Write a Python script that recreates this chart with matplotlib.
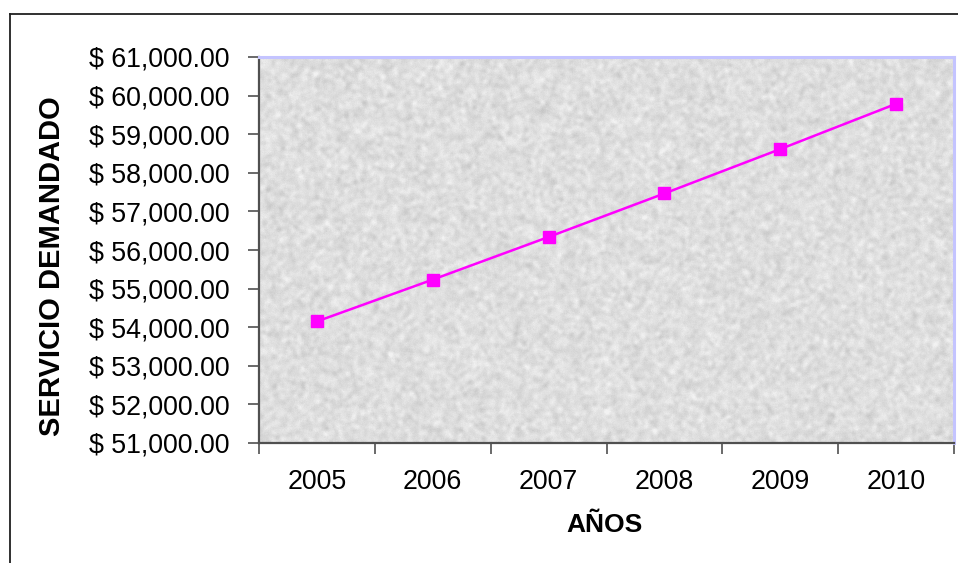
#modulos para el grafico
import numpy as np
import matplotlib
matplotlib.use("Agg")
import matplotlib.pyplot as plt
from matplotlib.lines import Line2D

#Datos
anos = ["2005", "2006", "2007", "2008", "2009", "2010"]
servicio = [54150, 55233, 56338, 57465, 58614, 59787]
y_ticks = [51000, 52000, 53000, 54000, 55000, 56000, 57000, 58000, 59000, 60000, 61000]

#Textos
t_x = "AÑOS"
t_y = "SERVICIO DEMANDADO"

plt.rcParams['font.family'] = ['Liberation Sans', 'DejaVu Sans']

fig = plt.figure(figsize=(9.58, 5.63), dpi=100)
fig.patch.set_facecolor('white')

#marco exterior del grafico (solo se ven borde izquierdo y superior)
fig.add_artist(Line2D([9.5 / 958, 9.5 / 958], [1 - 13.5 / 563, 0], transform=fig.transFigure,
                      color='#202020', lw=1.3))
fig.add_artist(Line2D([9.5 / 958, 1], [1 - 13.5 / 563, 1 - 13.5 / 563], transform=fig.transFigure,
                      color='#202020', lw=1.3))

ax = fig.add_axes([259 / 958, 1 - 443 / 563, 695 / 958, 386 / 563])

#fondo tipo granito del area de trazado (gris claro, poco contraste)
rng = np.random.default_rng(7)
ruido = rng.normal(0, 1, (386, 695))
k = np.ones(4) / 4
for _ in range(2):
    ruido = np.apply_along_axis(lambda r: np.convolve(r, k, mode='same'), 1, ruido)
    ruido = np.apply_along_axis(lambda c: np.convolve(c, k, mode='same'), 0, ruido)
ruido = ruido / ruido.std()
fino = rng.normal(0, 1, (386, 695))
gris = 0.872 + 0.022 * ruido + 0.007 * fino
gris = np.clip(gris, 0.78, 0.95)
ax.imshow(np.dstack([gris, gris, gris]), extent=(-0.5, 5.5, 51000, 61000),
          aspect='auto', interpolation='bilinear', zorder=0)

#linea con marcadores cuadrados
x = np.arange(len(anos))
ax.plot(x, servicio, color='#ff00ff', lw=1.8, marker='s', markersize=8.5,
        markeredgecolor='#ff00ff', zorder=3)

ax.set_xlim(-0.5, len(anos) - 0.5)
ax.set_ylim(y_ticks[0], y_ticks[-1])

#eje Y
ax.set_yticks(y_ticks)
ax.set_yticklabels(["$ {:,.2f}".format(v) for v in y_ticks])
ax.tick_params(axis='y', direction='out', length=8, width=1.2, color='#505050',
               labelsize=19.3, pad=13)

#eje X: marcas entre categorias, etiquetas centradas
ax.set_xticks(np.arange(-0.5, len(anos), 1.0))
ax.set_xticklabels([])
ax.set_xticks(x, minor=True)
ax.set_xticklabels(anos, minor=True)
ax.tick_params(axis='x', which='major', direction='out', length=8, width=1.2, color='#505050')
ax.tick_params(axis='x', which='minor', length=0, labelsize=19.3, pad=19)

for lado in ['left', 'bottom']:
    ax.spines[lado].set_color('#505050')
    ax.spines[lado].set_linewidth(1.6)
for lado in ['top', 'right']:
    ax.spines[lado].set_color('#c4c4ff')
    ax.spines[lado].set_linewidth(2.2)

#titulos de los ejes
fig.text(604 / 958, 1 - 525 / 563, t_x, ha='center', va='center', fontsize=19, fontweight='bold')
fig.text(52 / 958, 1 - 266 / 563, t_y, ha='center', va='center', rotation=90,
         fontsize=21, fontweight='bold')

fig.savefig("out.png", dpi=100)
